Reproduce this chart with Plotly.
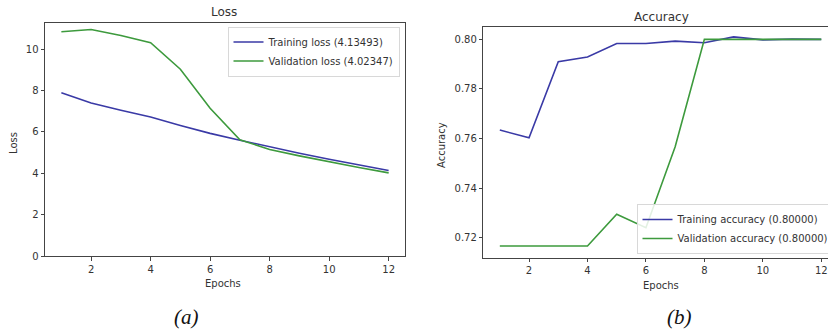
import plotly.graph_objects as go

epochs = list(range(1, 13))

train_loss = [7.89, 7.40, 7.05, 6.72, 6.31, 5.93, 5.60, 5.28, 4.97, 4.68, 4.41, 4.13]
val_loss = [10.84, 10.95, 10.66, 10.31, 9.03, 7.14, 5.62, 5.15, 4.84, 4.55, 4.28, 4.02]

train_acc = [0.7634, 0.7603, 0.7910, 0.7929, 0.7983, 0.7983, 0.7993, 0.7986, 0.8010, 0.7998, 0.8001, 0.8000]
val_acc = [0.7166, 0.7166, 0.7166, 0.7166, 0.7294, 0.7240, 0.7567, 0.8000, 0.8000, 0.8000, 0.8000, 0.8000]

loss_labels = ["Training loss (4.13493)", "Validation loss (4.02347)"]
acc_labels = ["Training accuracy (0.80000)", "Validation accuracy (0.80000)"]
titles = ["Loss", "Accuracy"]
ylabels = ["Loss", "Accuracy"]
xlabel = "Epochs"
captions = ["(a)", "(b)"]

BLUE = "#3a3aa6"
GREEN = "#3d9a3d"
W, H = 828, 329
TXT = "#333333"
FONT = "DejaVu Sans"

fig = go.Figure()
fig.add_trace(go.Scatter(x=epochs, y=train_loss, mode="lines", name=loss_labels[0],
                         line=dict(color=BLUE, width=1.6), xaxis="x", yaxis="y", legend="legend"))
fig.add_trace(go.Scatter(x=epochs, y=val_loss, mode="lines", name=loss_labels[1],
                         line=dict(color=GREEN, width=1.6), xaxis="x", yaxis="y", legend="legend"))
fig.add_trace(go.Scatter(x=epochs, y=train_acc, mode="lines", name=acc_labels[0],
                         line=dict(color=BLUE, width=1.6), xaxis="x2", yaxis="y2", legend="legend2"))
fig.add_trace(go.Scatter(x=epochs, y=val_acc, mode="lines", name=acc_labels[1],
                         line=dict(color=GREEN, width=1.6), xaxis="x2", yaxis="y2", legend="legend2"))

def px_x(p):
    return p / W

def px_y(p):
    return 1 - p / H

axis_common = dict(showgrid=False, zeroline=False, showline=True, mirror=True,
                   linecolor="#444444", linewidth=1, ticks="outside", ticklen=3.5,
                   tickcolor="#444444", tickfont=dict(family=FONT, size=10, color=TXT),
                   automargin=False)

fig.update_layout(
    width=W, height=H,
    margin=dict(l=0, r=0, t=0, b=0, autoexpand=False),
    paper_bgcolor="white", plot_bgcolor="white",
    font=dict(family=FONT, color=TXT),
    xaxis=dict(domain=[px_x(45), px_x(405)], range=[0.45, 12.55], tickvals=[2, 4, 6, 8, 10, 12],
               anchor="y", **axis_common),
    yaxis=dict(domain=[px_y(256), px_y(22.7)], range=[0, 11.28], tickvals=[0, 2, 4, 6, 8, 10],
               anchor="x", **axis_common),
    xaxis2=dict(domain=[px_x(483.3), 1.0], range=[0.435, 12.23], tickvals=[2, 4, 6, 8, 10, 12],
                anchor="y2", **axis_common),
    yaxis2=dict(domain=[px_y(257.7), px_y(26.7)], range=[0.7119, 0.8051],
                tickvals=[0.72, 0.74, 0.76, 0.78, 0.80], tickformat=".2f",
                anchor="x2", **axis_common),
    legend=dict(x=px_x(227.5), y=px_y(26.5), xanchor="left", yanchor="top",
                bgcolor="rgba(255,255,255,0.85)", bordercolor="#d8d8d8", borderwidth=1,
                font=dict(family=FONT, size=10, color=TXT), itemwidth=30,
                tracegroupgap=0),
    legend2=dict(x=px_x(636.5), y=px_y(254), xanchor="left", yanchor="bottom",
                 bgcolor="rgba(255,255,255,0.85)", bordercolor="#d8d8d8", borderwidth=1,
                 font=dict(family=FONT, size=10, color=TXT), itemwidth=30,
                 tracegroupgap=0),
    showlegend=True,
)

def note(text, x, y, size=10, angle=0, family=FONT, color=TXT):
    return dict(text=text, x=px_x(x), y=px_y(y), xref="paper", yref="paper",
                xanchor="center", yanchor="middle", showarrow=False, textangle=angle,
                font=dict(family=family, size=size, color=color))

ann = [
    note(titles[0], 224, 12, size=12),
    note(titles[1], 661, 16.5, size=12),
    note(xlabel, 223, 283.5),
    note(xlabel, 661, 285),
    note(ylabels[0], 13, 143, angle=-90),
    note(ylabels[1], 442, 145, angle=-90),
    note("<i>" + captions[0] + "</i>", 186, 317, size=21, family="Liberation Serif", color="#111111"),
    note("<i>" + captions[1] + "</i>", 679, 317, size=21, family="Liberation Serif", color="#111111"),
]
fig.update_layout(annotations=ann)

fig.write_html("out.html")
